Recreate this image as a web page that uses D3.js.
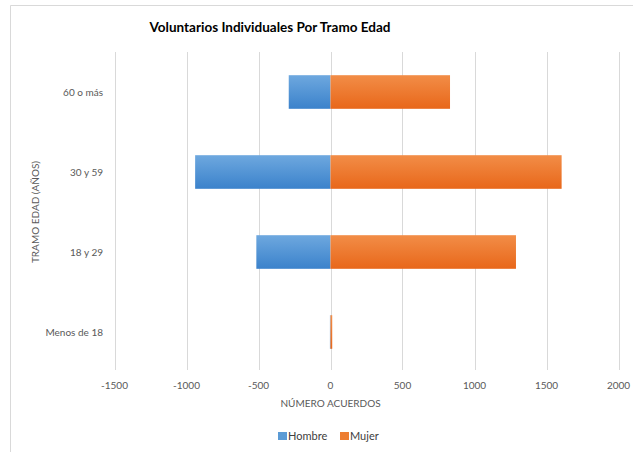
<!DOCTYPE html>
<html>
<head>
<meta charset="utf-8">
<script src="https://cdn.jsdelivr.net/npm/d3@7"></script>
<style>
	body { margin: 0; background: #fff; }
	text { font-family: Lato, "Open Sans", sans-serif; fill: #595959; }
</style>
</head>
<body>
<svg id="chart" width="633" height="452"></svg>
<script>
// data
const categories = ['Menos de 18', '18 y 29', '30 y 59', '60 o más'];
const hombre = [-4, -515, -940, -290];
const mujer = [12, 1288, 1605, 830];
const ticks = [-1500, -1000, -500, 0, 500, 1000, 1500, 2000];

const width = 633,
	height = 452,
	margin = { top: 52, right: 15, bottom: 82, left: 114 };

const svg = d3.select('#chart');

// chart frame
svg.append('path')
	.attr('d', `M10.5,${height} V5.5 H${width}`)
	.attr('fill', 'none')
	.attr('stroke', '#d9d9d9');

const x = d3.scaleLinear()
	.domain([-1500, 2000])
	.range([114.5, 618.5]);

const y = d3.scaleBand()
	.domain(categories.slice().reverse())
	.range([margin.top, 372])
	.paddingInner(0.58)
	.paddingOuter(0.29);

const defs = svg.append('defs');
const grad = (id, c1, c2) => {
	const g = defs.append('linearGradient')
		.attr('id', id)
		.attr('x1', 0).attr('y1', 0).attr('x2', 0).attr('y2', 1);
	g.append('stop').attr('offset', '0%').attr('stop-color', c1);
	g.append('stop').attr('offset', '100%').attr('stop-color', c2);
};
grad('gBlue', '#6ea8df', '#3b82cb');
grad('gOrange', '#f28d47', '#e8671a');

// gridlines
svg.append('g')
	.selectAll('line')
	.data(ticks)
	.join('line')
	.attr('x1', d => Math.round(x(d)) + 0.5)
	.attr('x2', d => Math.round(x(d)) + 0.5)
	.attr('y1', margin.top)
	.attr('y2', 370)
	.attr('stroke', '#d9d9d9');

// tick labels
svg.append('g')
	.selectAll('text')
	.data(ticks)
	.join('text')
	.attr('x', d => x(d))
	.attr('y', 389)
	.attr('text-anchor', 'middle')
	.style('font-size', '10px')
	.text(d => d);

// bars
const rows = categories.map((c, i) => ({ cat: c, h: hombre[i], m: mujer[i] }));

svg.append('g')
	.selectAll('rect')
	.data(rows)
	.join('rect')
	.attr('x', d => x(d.h))
	.attr('y', d => y(d.cat))
	.attr('width', d => x(0) - x(d.h))
	.attr('height', y.bandwidth())
	.attr('fill', 'url(#gBlue)');

svg.append('g')
	.selectAll('rect')
	.data(rows)
	.join('rect')
	.attr('x', x(0))
	.attr('y', d => y(d.cat))
	.attr('width', d => x(d.m) - x(0))
	.attr('height', y.bandwidth())
	.attr('fill', 'url(#gOrange)');

// category labels
svg.append('g')
	.selectAll('text')
	.data(categories)
	.join('text')
	.attr('x', 103)
	.attr('y', d => y(d) + y.bandwidth() / 2)
	.attr('dy', '0.35em')
	.attr('text-anchor', 'end')
	.style('font-size', '10px')
	.text(d => d);

// axis titles
svg.append('text')
	.attr('transform', 'translate(35,212) rotate(-90)')
	.attr('text-anchor', 'middle')
	.attr('dy', '0.35em')
	.style('font-size', '10px')
	.text('TRAMO EDAD (AÑOS)');

svg.append('text')
	.attr('x', x(0))
	.attr('y', 407)
	.attr('text-anchor', 'middle')
	.style('font-size', '10px')
	.text('NÚMERO ACUERDOS');

// title
svg.append('text')
	.attr('x', 270)
	.attr('y', 32)
	.attr('text-anchor', 'middle')
	.style('font-size', '13.5px')
	.style('font-weight', 'bold')
	.style('fill', '#000')
	.text('Voluntarios Individuales Por Tramo Edad');

// legend
const legend = [
	{ name: 'Hombre', color: '#5b9bd5', x: 278 },
	{ name: 'Mujer', color: '#ed7d31', x: 340 }
];
const lg = svg.append('g')
	.selectAll('g')
	.data(legend)
	.join('g')
	.attr('transform', d => `translate(${d.x},436)`);
lg.append('rect')
	.attr('y', -4)
	.attr('width', 9)
	.attr('height', 8)
	.attr('fill', d => d.color);
lg.append('text')
	.attr('x', 10)
	.attr('dy', '0.35em')
	.style('font-size', '11px')
	.style('fill', '#404040')
	.text(d => d.name);
</script>
</body>
</html>
